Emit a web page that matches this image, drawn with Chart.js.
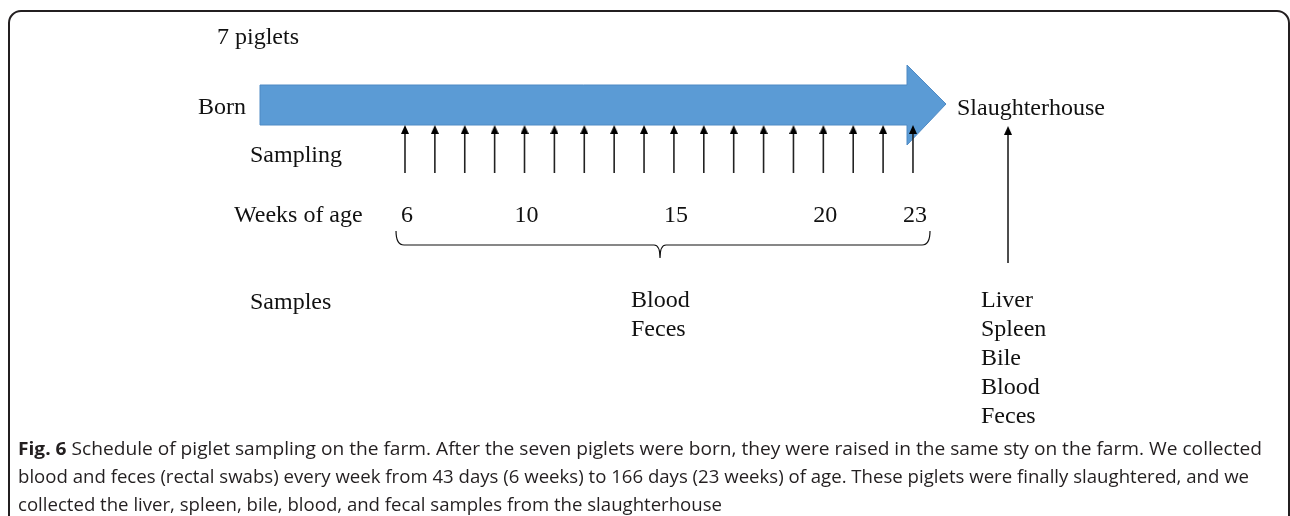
<!DOCTYPE html>
<html>
<head>
<meta charset="utf-8">
<script src="https://cdn.jsdelivr.net/npm/chart.js@4.4.1/dist/chart.umd.min.js"></script>
<style>
  html, body { margin: 0; padding: 0; background: #fff; }
  #wrap { position: relative; width: 1290px; height: 516px; }
</style>
</head>
<body>
<div id="wrap"><canvas id="c"></canvas></div>
<script>
// Piglet sampling schedule, drawn on a linear "weeks" axis.
const samplingWeeks = [6, 7, 8, 9, 10, 11, 12, 13, 14, 15, 16, 17, 18, 19, 20, 21, 22, 23];
const weekTicks = [6, 10, 15, 20, 23];
const farmSamples = ["Blood", "Feces"];
const slaughterSamples = ["Liver", "Spleen", "Bile", "Blood", "Feces"];
const slaughterWeek = 26.18;   // where the slaughterhouse arrow sits on the week axis
const captionLines = [
  ["Fig. 6", " Schedule of piglet sampling on the farm. After the seven piglets were born, they were raised in the same sty on the farm. We collected"],
  ["", "blood and feces (rectal swabs) every week from 43 days (6 weeks) to 166 days (23 weeks) of age. These piglets were finally slaughtered, and we"],
  ["", "collected the liver, spleen, bile, blood, and fecal samples from the slaughterhouse"],
];
const captionWidths = [1244, 1231, 704];

const SERIF = "24px 'Liberation Serif', 'Times New Roman', serif";
const CAP = "18px 'Open Sans', sans-serif";
const CAP_BOLD = "bold 18px 'Open Sans', sans-serif";
const INK = "#111";

// small arrowhead used as a point style
const head = document.createElement("canvas");
head.width = 8; head.height = 9;
(() => {
  const g = head.getContext("2d");
  g.fillStyle = "#000";
  g.beginPath(); g.moveTo(4, 0); g.lineTo(8, 9); g.lineTo(0, 9); g.closePath(); g.fill();
})();

const arrowSet = (x, y0, y1) => ({
  type: "line", showLine: true,
  data: [{ x, y: y0 }, { x, y: y1 + 4.5 }],
  borderColor: "#222", borderWidth: 1.6,
  pointStyle: (c) => c.dataIndex === 1 ? head : "circle",
  pointRadius: (c) => c.dataIndex === 1 ? 4 : 0,
  pointHoverRadius: 0,
});

const datasets = samplingWeeks.map((w) => arrowSet(w, 173, 125));
datasets.push(arrowSet(slaughterWeek, 263, 126));

const decor = {
  id: "decor",
  beforeDatasetsDraw(chart) {
    const { ctx, scales: { y } } = chart;
    // frame
    ctx.save();
    ctx.strokeStyle = "#231f20"; ctx.lineWidth = 2;
    ctx.beginPath();
    ctx.roundRect(9, 11, 1280, 560, 12);
    ctx.stroke();
    // big timeline arrow
    ctx.fillStyle = "#5b9bd5"; ctx.strokeStyle = "#4f8ac4"; ctx.lineWidth = 1;
    ctx.beginPath();
    ctx.moveTo(260, y.getPixelForValue(85));
    ctx.lineTo(907, y.getPixelForValue(85));
    ctx.lineTo(907, y.getPixelForValue(65));
    ctx.lineTo(946, y.getPixelForValue(104));
    ctx.lineTo(907, y.getPixelForValue(145));
    ctx.lineTo(907, y.getPixelForValue(125));
    ctx.lineTo(260, y.getPixelForValue(125));
    ctx.closePath();
    ctx.fill(); ctx.stroke();
    ctx.restore();
  },
  afterDatasetsDraw(chart) {
    const { ctx, scales: { x } } = chart;
    ctx.save();
    ctx.fillStyle = INK;
    ctx.font = SERIF;
    ctx.textBaseline = "alphabetic";
    ctx.textAlign = "left";
    ctx.fillText("7 piglets", 217, 44);
    ctx.fillText("Born", 198, 114);
    ctx.fillText("Sampling", 250, 162);
    ctx.fillText("Weeks of age", 234, 222);
    ctx.fillText("Samples", 250, 309);
    ctx.fillText("Slaughterhouse", 957, 115);
    farmSamples.forEach((s, i) => ctx.fillText(s, 631, 307 + i * 29));
    slaughterSamples.forEach((s, i) => ctx.fillText(s, 981, 307 + i * 29));
    ctx.textAlign = "center";
    weekTicks.forEach((w) => ctx.fillText(String(w), x.getPixelForValue(w) + 2, 222));

    // brace under the sampling weeks
    const l = x.getPixelForValue(5.7), r = x.getPixelForValue(23.57);
    const m = (l + r) / 2 - 3;
    ctx.strokeStyle = INK; ctx.lineWidth = 1.2;
    ctx.beginPath();
    ctx.moveTo(l, 231);
    ctx.quadraticCurveTo(l, 245, l + 8, 245);
    ctx.lineTo(m - 6, 245);
    ctx.quadraticCurveTo(m, 245, m, 258);
    ctx.quadraticCurveTo(m, 245, m + 6, 245);
    ctx.lineTo(r - 8, 245);
    ctx.quadraticCurveTo(r, 245, r, 231);
    ctx.stroke();

    // caption, squeezed to the column width of the original
    ctx.textAlign = "left";
    ctx.fillStyle = "#231f20";
    captionLines.forEach(([bold, rest], i) => {
      const base = 455 + i * 28;
      ctx.font = CAP_BOLD;
      const bw = ctx.measureText(bold).width;
      ctx.font = CAP;
      const rw = ctx.measureText(rest).width;
      const sx = captionWidths[i] / (bw + rw);
      ctx.save();
      ctx.translate(18, base);
      ctx.scale(sx, 1);
      ctx.font = CAP_BOLD;
      ctx.fillText(bold, 0, 0);
      ctx.font = CAP;
      ctx.fillText(rest, bw, 0);
      ctx.restore();
    });
    ctx.restore();
  },
};

new Chart(document.getElementById("c"), {
  type: "scatter",
  data: { datasets },
  options: {
    responsive: true, maintainAspectRatio: false, animation: false, events: [],
    layout: { padding: 0, autoPadding: false },
    plugins: { legend: { display: false }, tooltip: { enabled: false } },
    scales: {
      x: { type: "linear", display: false, min: -7.553, max: 35.617 },
      y: { type: "linear", display: false, min: 0, max: 516, reverse: true },
    },
  },
  plugins: [decor],
});
</script>
</body>
</html>
